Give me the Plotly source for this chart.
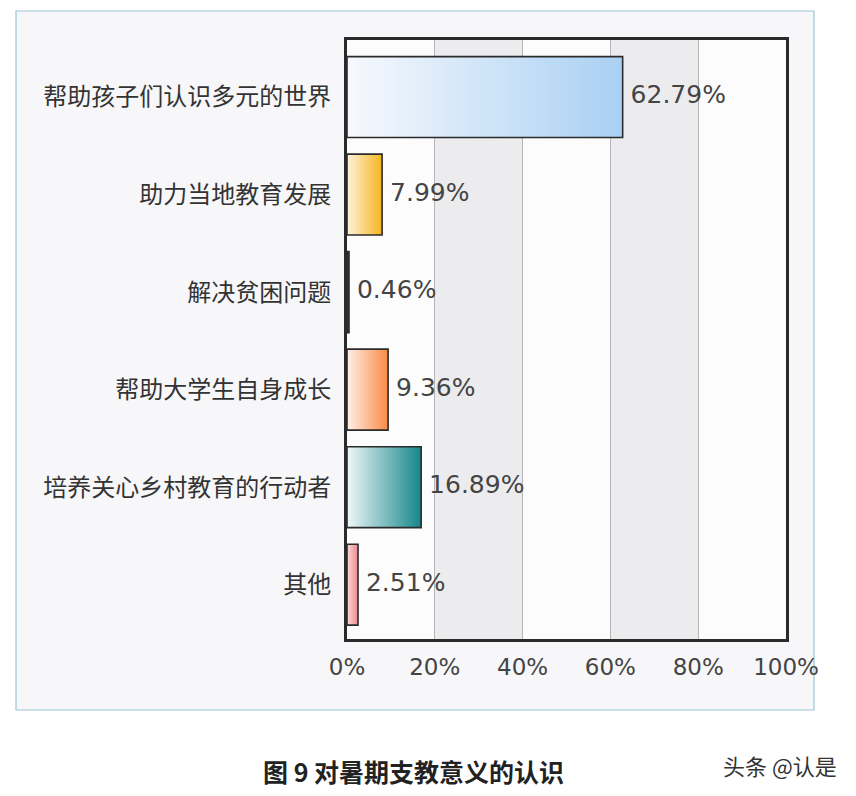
import plotly.graph_objects as go

categories = ["帮助孩子们认识多元的世界", "助力当地教育发展", "解决贫困问题",
              "帮助大学生自身成长", "培养关心乡村教育的行动者", "其他"]
values = [62.79, 7.99, 0.46, 9.36, 16.89, 2.51]
end_colors = ["#a9d0f3", "#f6b51c", "#3a3a3a", "#fa8a45", "#15878a", "#ec8a8f"]
start_colors = ["#f7f9fd", "#fdf3dc", "#3a3a3a", "#fdf0e8", "#eef7f8", "#f9d8da"]
x_ticks = [0, 20, 40, 60, 80, 100]
x_tick_labels = ["0%", "20%", "40%", "60%", "80%", "100%"]
title_text = "图 9 对暑期支教意义的认识"
watermark = "头条 @认是"

OFF = 8  # page body margin
W, H = 856 - 2 * OFF, 796 - 2 * OFF
L, R, T, B = 347 - OFF, 786 - OFF, 40 - OFF, 639 - OFF
bar_w = 0.83

fig = go.Figure()

for i, (v, c0, c1) in enumerate(zip(values, start_colors, end_colors)):
    y0, y1 = i - bar_w / 2, i + bar_w / 2
    fig.add_trace(go.Scatter(
        x=[0, v, v, 0, 0], y=[y0, y0, y1, y1, y0],
        mode="lines", fill="toself",
        fillgradient=dict(type="horizontal", colorscale=[[0, c0], [1, c1]],
                          start=0, stop=max(v, 0.01)),
        line=dict(color="#2b2b2b", width=1.6),
        hoverinfo="skip", showlegend=False,
    ))

fig.add_trace(go.Scatter(
    x=values, y=list(range(len(values))), mode="text",
    text=[f" {v:.2f}%" for v in values], textposition="middle right",
    textfont=dict(family="DejaVu Sans, Noto Sans CJK SC", size=25, color="#444444"),
    hoverinfo="skip", showlegend=False, cliponaxis=False,
))

pw, ph = R - L, B - T
def px(xp): return (xp - OFF - L) / pw
def py(yp): return (B - (yp - OFF)) / ph

shapes = [
    dict(type="rect", xref="paper", yref="paper",
         x0=px(16), x1=px(814), y0=py(710), y1=py(11),
         fillcolor="#f7f7f9", line=dict(color="#9cc6d8", width=1.2), layer="below"),
    dict(type="rect", xref="paper", yref="paper", x0=0, x1=1, y0=0, y1=1,
         fillcolor="#fcfcfd", line_width=0, layer="below"),
]
for a, b in [(20, 40), (60, 80)]:
    shapes.append(dict(type="rect", xref="x", yref="paper", x0=a, x1=b, y0=0, y1=1,
                       fillcolor="#ececef", line_width=0, layer="below"))

fig.update_layout(
    width=W, height=H,
    margin=dict(l=L, r=W - R, t=T, b=H - B),
    paper_bgcolor="white", plot_bgcolor="#fcfcfd",
    shapes=shapes,
    annotations=[
        dict(text=f"<b>{title_text}</b>", xref="paper", yref="paper",
             x=px(413), y=py(771), xanchor="center", yanchor="middle", showarrow=False,
             font=dict(family="Noto Sans CJK SC", size=25, color="#222222")),
        dict(text=watermark, xref="paper", yref="paper",
             x=px(780), y=py(765), xanchor="center", yanchor="middle", showarrow=False,
             font=dict(family="Noto Sans CJK SC", size=22, color="#333333")),
    ],
)

fig.update_xaxes(range=[0, 100], tickvals=x_ticks, ticktext=x_tick_labels,
                 showgrid=True, gridcolor="#b5b5b8", gridwidth=1, zeroline=False,
                 showline=True, linecolor="#2a2a2a", linewidth=3, mirror=True,
                 ticks="outside", ticklen=5, tickcolor="rgba(0,0,0,0)",
                 tickfont=dict(family="DejaVu Sans, Noto Sans CJK SC", size=23, color="#444444"),
                 fixedrange=True)
fig.update_yaxes(range=[5.557, -0.585], tickvals=list(range(len(categories))), ticktext=categories,
                 showgrid=False, zeroline=False,
                 showline=True, linecolor="#2a2a2a", linewidth=3, mirror=True,
                 ticks="outside", ticklen=8, tickcolor="rgba(0,0,0,0)",
                 tickfont=dict(family="Noto Sans CJK SC", size=24, color="#333333"),
                 fixedrange=True)

fig.write_html("out.html")
